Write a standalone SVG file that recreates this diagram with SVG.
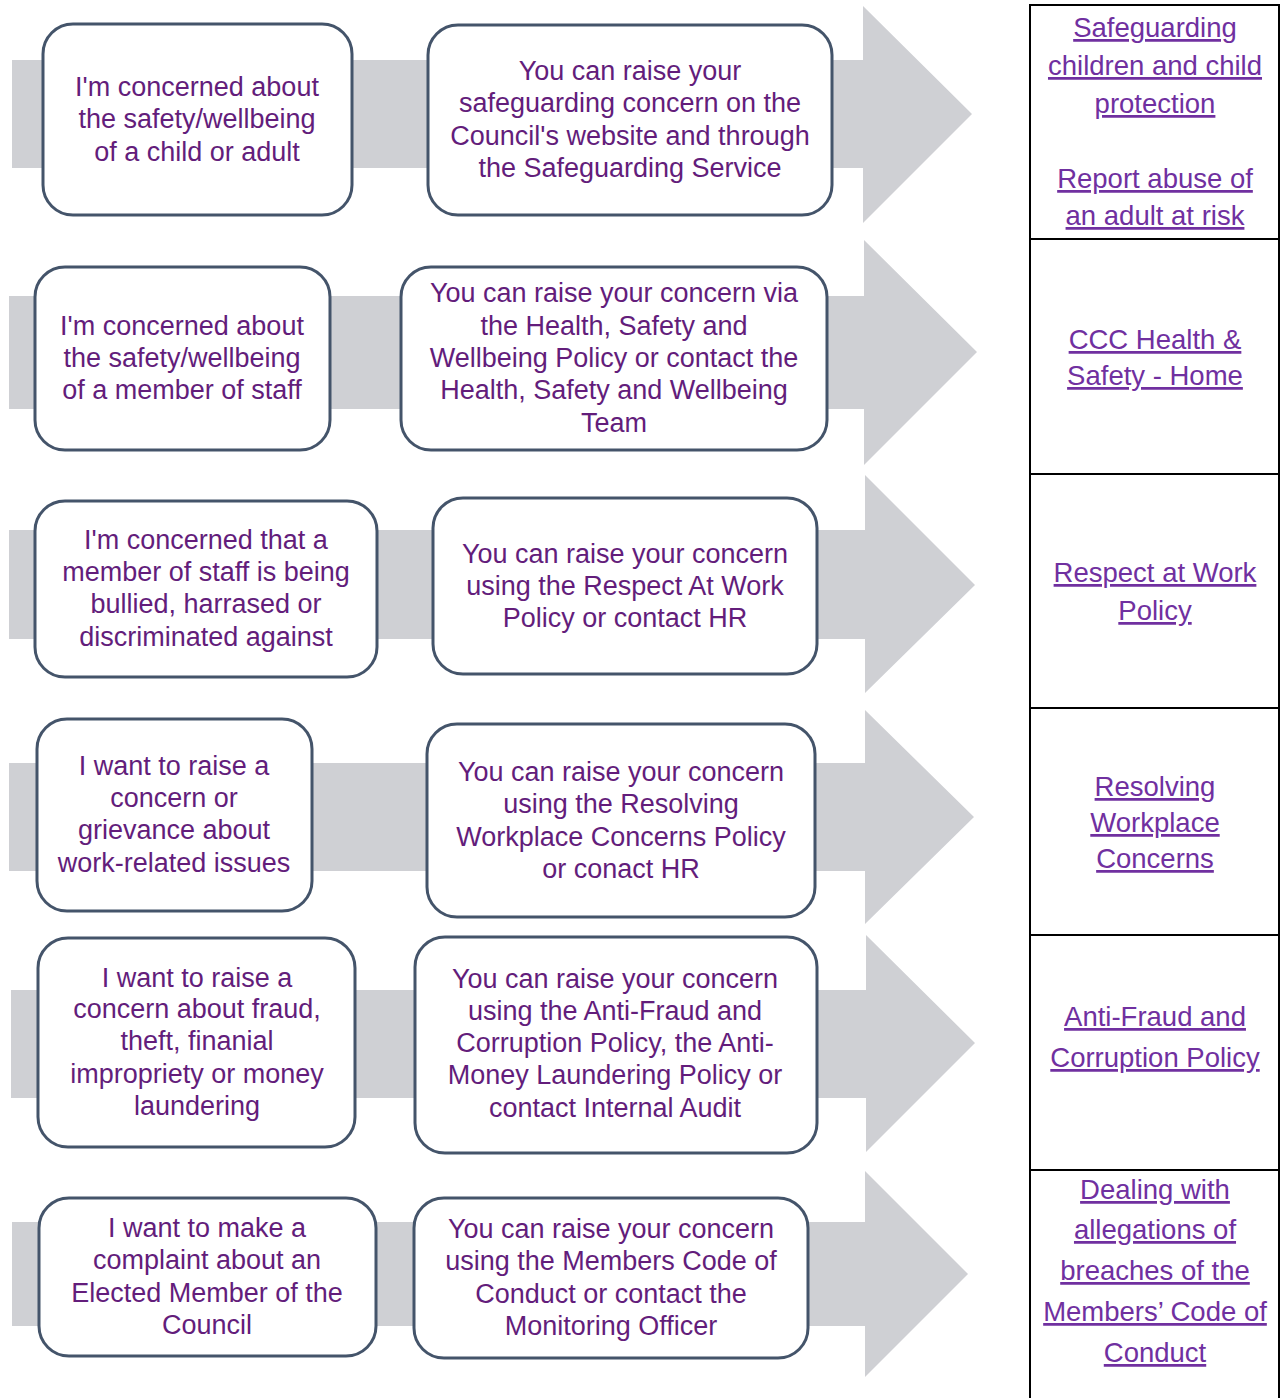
<svg xmlns="http://www.w3.org/2000/svg" width="1280" height="1398" viewBox="0 0 1280 1398">
<style>
.arrow{fill:#cfd0d4;stroke:none}
.box{fill:#ffffff;stroke:#44546a;stroke-width:3}
.t{font-family:"Liberation Sans",Arial,sans-serif;font-size:27px;fill:#631d7b;text-anchor:middle}
.lk{font-family:"Liberation Sans",Arial,sans-serif;font-size:27.5px;fill:#7030a0;text-anchor:middle;text-decoration:underline}
.grid{fill:none;stroke:#000000;stroke-width:2}
</style>
<rect width="1280" height="1398" fill="#ffffff"/>
<g id="connectors">
<polygon class="arrow" points="12,60 863,60 863,6 972,114 863,223 863,168 12,168"/>
<polygon class="arrow" points="9,296 864,296 864,240 977,352 864,465 864,409 9,409"/>
<polygon class="arrow" points="9,530 865,530 865,475 975,585 865,693 865,639 9,639"/>
<polygon class="arrow" points="9,763 865,763 865,710 974,817 865,924 865,871 9,871"/>
<polygon class="arrow" points="11,990 866,990 866,935 975,1043 866,1152 866,1098 11,1098"/>
<polygon class="arrow" points="12,1222 865,1222 865,1171 968,1274 865,1377 865,1326 12,1326"/>
</g>
<g id="node-a1"><rect class="box" x="43" y="24" width="309" height="191" rx="30"/>
<text class="t"><tspan x="197" y="96">I'm concerned about</tspan><tspan x="197" y="128">the safety/wellbeing</tspan><tspan x="197" y="161">of a child or adult</tspan></text></g>
<g id="node-b1"><rect class="box" x="428" y="25" width="404" height="190" rx="30"/>
<text class="t"><tspan x="630" y="80">You can raise your</tspan><tspan x="630" y="112">safeguarding concern on the</tspan><tspan x="630" y="145">Council's website and through</tspan><tspan x="630" y="177">the Safeguarding Service</tspan></text></g>
<g id="node-a2"><rect class="box" x="35" y="267" width="295" height="183" rx="30"/>
<text class="t"><tspan x="182" y="335">I'm concerned about</tspan><tspan x="182" y="367">the safety/wellbeing</tspan><tspan x="182" y="399">of a member of staff</tspan></text></g>
<g id="node-b2"><rect class="box" x="401" y="267" width="426" height="183" rx="30"/>
<text class="t"><tspan x="614" y="302">You can raise your concern via</tspan><tspan x="614" y="335">the Health, Safety and</tspan><tspan x="614" y="367">Wellbeing Policy or contact the</tspan><tspan x="614" y="399">Health, Safety and Wellbeing</tspan><tspan x="614" y="432">Team</tspan></text></g>
<g id="node-a3"><rect class="box" x="35" y="501" width="342" height="176" rx="30"/>
<text class="t"><tspan x="206" y="549">I'm concerned that a</tspan><tspan x="206" y="581">member of staff is being</tspan><tspan x="206" y="613">bullied, harrased or</tspan><tspan x="206" y="646">discriminated against</tspan></text></g>
<g id="node-b3"><rect class="box" x="433" y="498" width="384" height="176" rx="30"/>
<text class="t"><tspan x="625" y="563">You can raise your concern</tspan><tspan x="625" y="595">using the Respect At Work</tspan><tspan x="625" y="627">Policy or contact HR</tspan></text></g>
<g id="node-a4"><rect class="box" x="37" y="719" width="275" height="192" rx="30"/>
<text class="t"><tspan x="174" y="775">I want to raise a</tspan><tspan x="174" y="807">concern or</tspan><tspan x="174" y="839">grievance about</tspan><tspan x="174" y="872">work-related issues</tspan></text></g>
<g id="node-b4"><rect class="box" x="427" y="724" width="388" height="193" rx="30"/>
<text class="t"><tspan x="621" y="781">You can raise your concern</tspan><tspan x="621" y="813">using the Resolving</tspan><tspan x="621" y="846">Workplace Concerns Policy</tspan><tspan x="621" y="878">or conact HR</tspan></text></g>
<g id="node-a5"><rect class="box" x="38" y="938" width="317" height="209" rx="30"/>
<text class="t"><tspan x="197" y="987">I want to raise a</tspan><tspan x="197" y="1018">concern about fraud,</tspan><tspan x="197" y="1050">theft,  finanial</tspan><tspan x="197" y="1083">impropriety or money</tspan><tspan x="197" y="1115">laundering</tspan></text></g>
<g id="node-b5"><rect class="box" x="415" y="937" width="402" height="216" rx="30"/>
<text class="t"><tspan x="615" y="988">You can raise your concern</tspan><tspan x="615" y="1020">using the Anti-Fraud and</tspan><tspan x="615" y="1052">Corruption Policy, the Anti-</tspan><tspan x="615" y="1084">Money Laundering Policy or</tspan><tspan x="615" y="1117">contact Internal Audit</tspan></text></g>
<g id="node-a6"><rect class="box" x="39" y="1198" width="337" height="158" rx="30"/>
<text class="t"><tspan x="207" y="1237">I want to make a</tspan><tspan x="207" y="1269">complaint about an</tspan><tspan x="207" y="1302">Elected Member of the</tspan><tspan x="207" y="1334">Council</tspan></text></g>
<g id="node-b6"><rect class="box" x="414" y="1198" width="394" height="160" rx="30"/>
<text class="t"><tspan x="611" y="1238">You can raise your concern</tspan><tspan x="611" y="1270">using the Members Code of</tspan><tspan x="611" y="1303">Conduct or contact the</tspan><tspan x="611" y="1335">Monitoring Officer</tspan></text></g>
<g id="links-table">
<rect class="grid" x="1030" y="5" width="249" height="1400"/>
<line class="grid" x1="1030" y1="239" x2="1279" y2="239"/>
<line class="grid" x1="1030" y1="474" x2="1279" y2="474"/>
<line class="grid" x1="1030" y1="708" x2="1279" y2="708"/>
<line class="grid" x1="1030" y1="935" x2="1279" y2="935"/>
<line class="grid" x1="1030" y1="1170" x2="1279" y2="1170"/>
<g id="link-1"><text class="lk"><tspan x="1155" y="37">Safeguarding</tspan><tspan x="1155" y="75">children and child</tspan><tspan x="1155" y="113">protection</tspan></text>
<text class="lk"><tspan x="1155" y="188">Report abuse of</tspan><tspan x="1155" y="225">an adult at risk</tspan></text></g>
<g id="link-2"><text class="lk"><tspan x="1155" y="349">CCC Health &amp;</tspan><tspan x="1155" y="385">Safety - Home</tspan></text></g>
<g id="link-3"><text class="lk"><tspan x="1155" y="582">Respect at Work</tspan><tspan x="1155" y="620">Policy</tspan></text></g>
<g id="link-4"><text class="lk"><tspan x="1155" y="796">Resolving</tspan><tspan x="1155" y="832">Workplace</tspan><tspan x="1155" y="868">Concerns</tspan></text></g>
<g id="link-5"><text class="lk"><tspan x="1155" y="1026">Anti-Fraud and</tspan><tspan x="1155" y="1067">Corruption Policy</tspan></text></g>
<g id="link-6"><text class="lk"><tspan x="1155" y="1199">Dealing with</tspan><tspan x="1155" y="1239">allegations of</tspan><tspan x="1155" y="1280">breaches of the</tspan><tspan x="1155" y="1321">Members’ Code of</tspan><tspan x="1155" y="1362">Conduct</tspan></text></g>
</g>
</svg>
